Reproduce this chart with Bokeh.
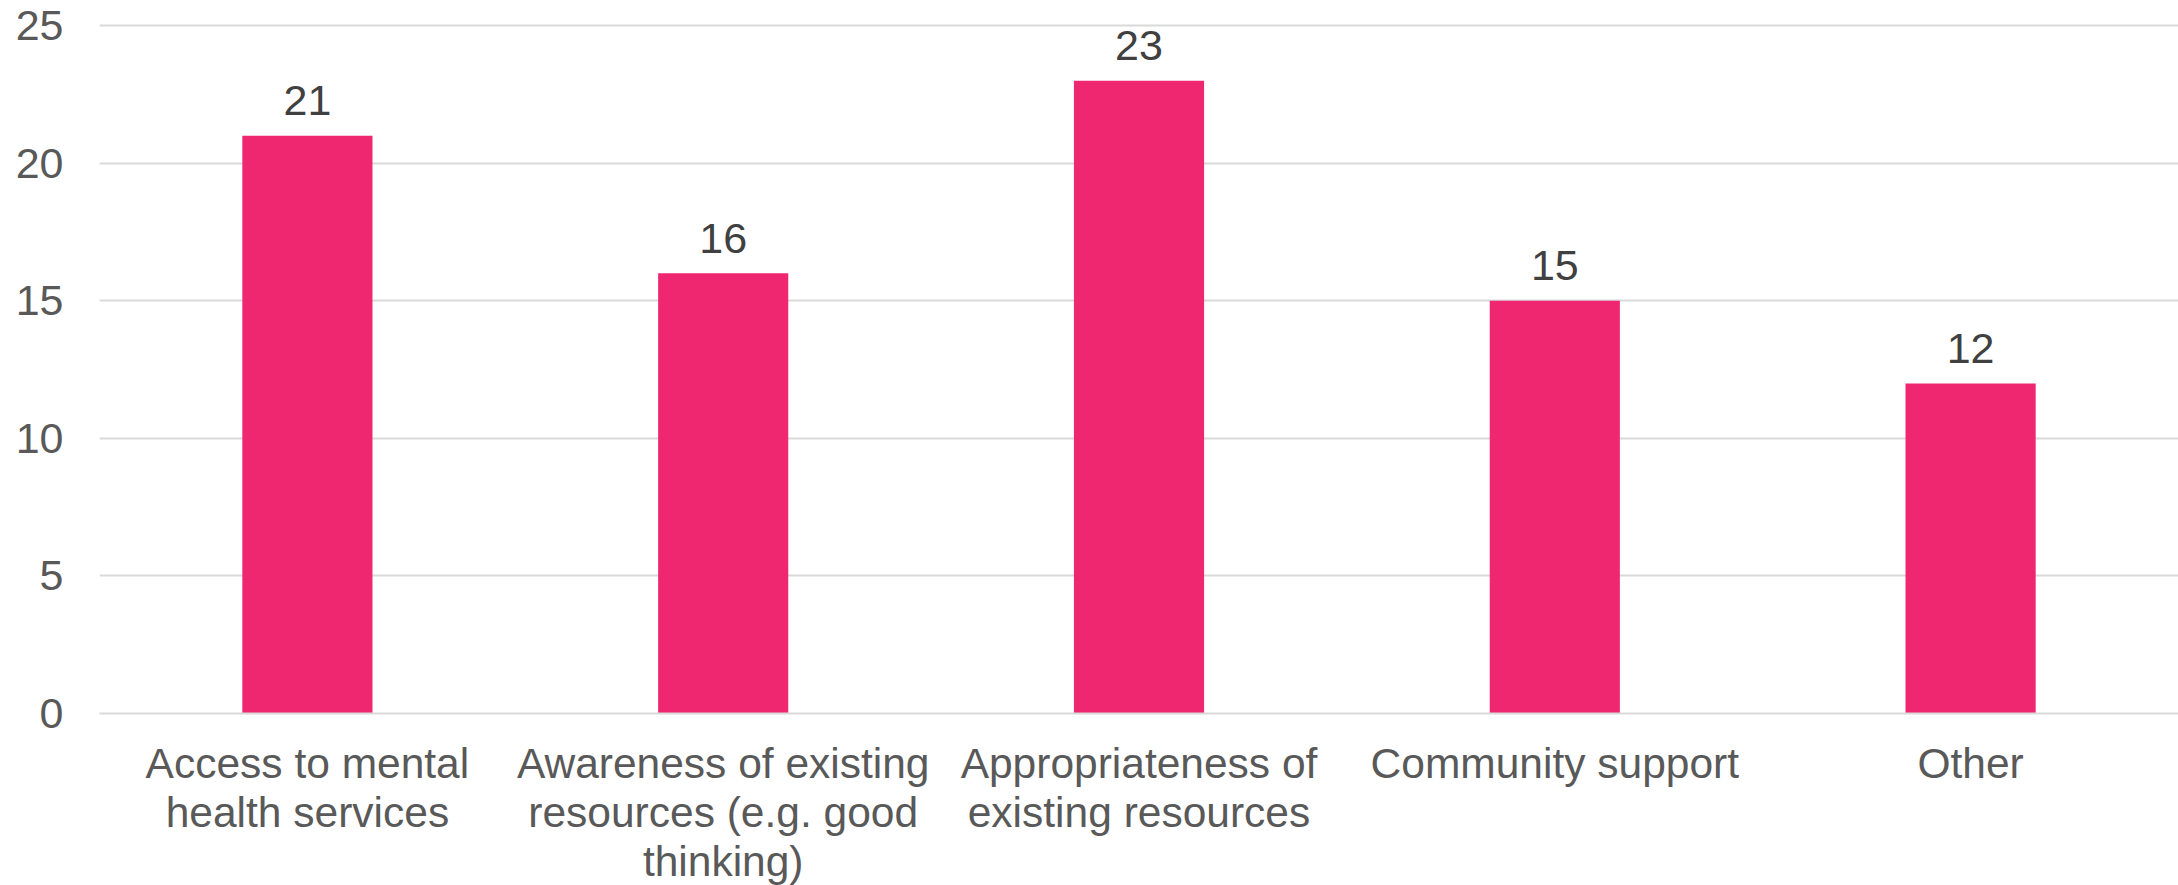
from bokeh.plotting import figure
from bokeh.models import FactorRange, Range1d, ColumnDataSource, SingleIntervalTicker
from bokeh.core.properties import value
from bokeh.embed import file_html
from bokeh.resources import INLINE

categories = ["Access to mental\nhealth services",
              "Awareness of existing\nresources (e.g. good\nthinking)",
              "Appropriateness of\nexisting resources",
              "Community support",
              "Other"]
counts = [21, 16, 23, 15, 12]
labels = [str(v) for v in counts]

src = ColumnDataSource(dict(cat=categories, val=counts, lab=labels))

p = figure(frame_width=2079, frame_height=696, output_backend="svg", toolbar_location=None,
           x_range=FactorRange(factors=categories, range_padding=0),
           y_range=Range1d(0, 25.3),
           min_border_left=99, min_border_right=0, min_border_top=17, min_border_bottom=0)
p.outline_line_color = None
p.background_fill_color = "white"

p.vbar(x="cat", top="val", width=0.313, source=src, color="#EF2670", line_color=None)
p.text(x="cat", y="val", text="lab", source=src, text_align="center", text_baseline="alphabetic",
       y_offset=-35, text_font=value("Liberation Sans"), text_font_size="43px", text_color="#404040")

p.xgrid.grid_line_color = None
p.ygrid.grid_line_color = "#D9D9D9"
p.ygrid.grid_line_width = 2
p.yaxis.ticker = SingleIntervalTicker(interval=5)

p.yaxis.axis_line_color = None
p.yaxis.major_tick_line_color = None
p.yaxis.minor_tick_line_color = None
p.yaxis.major_tick_out = 0
p.yaxis.major_tick_in = 0
p.yaxis.major_label_standoff = 32
p.yaxis.major_label_text_font = "Liberation Sans"
p.yaxis.major_label_text_font_size = "43px"
p.yaxis.major_label_text_color = "#595959"

p.xaxis.axis_line_color = "#D9D9D9"
p.xaxis.axis_line_width = 2
p.xaxis.major_tick_line_color = None
p.xaxis.minor_tick_line_color = None
p.xaxis.major_tick_out = 0
p.xaxis.major_tick_in = 0
p.xaxis.major_label_standoff = 26
p.xaxis.major_label_text_font = "Liberation Sans"
p.xaxis.major_label_text_font_size = "42.5px"
p.xaxis.major_label_text_color = "#595959"
p.xaxis.major_label_text_line_height = 1.047

open("out.html", "w").write(file_html(p, INLINE))
